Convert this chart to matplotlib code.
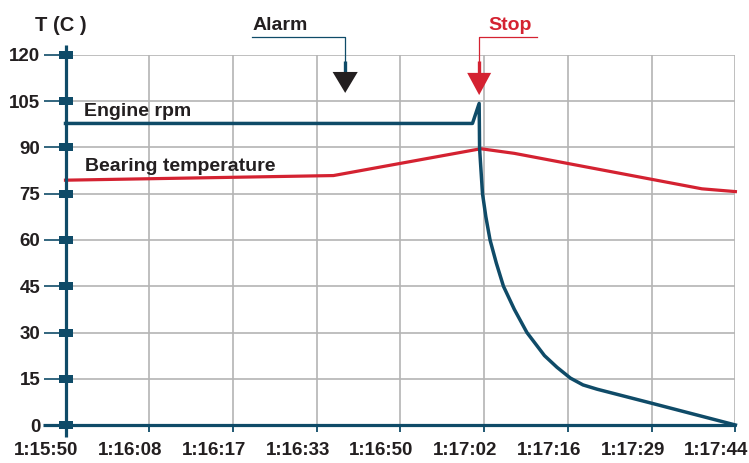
import matplotlib
matplotlib.use('Agg')
import matplotlib.pyplot as plt
import matplotlib.transforms as mtransforms
import numpy as np

# ---- data ----
time_labels = ['1:15:50', '1:16:08', '1:16:17', '1:16:33', '1:16:50',
               '1:17:02', '1:17:16', '1:17:29', '1:17:44']
y_ticks = [0, 15, 30, 45, 60, 75, 90, 105, 120]

rpm_x = [0, 4.86, 4.94, 4.945, 4.98, 5.02, 5.07, 5.145, 5.23, 5.36, 5.51,
         5.72, 5.87, 6.03, 6.18, 6.35, 6.98, 8.0]
rpm_y = [97.8, 97.8, 104.3, 89.7, 75.0, 67.5, 60.0, 52.5, 45.0, 37.5, 30.0,
         22.5, 18.7, 15.2, 13.0, 11.6, 7.2, 0.0]

temp_x = [0, 3.2, 4.96, 5.36, 7.6, 8.0]
temp_y = [79.4, 80.9, 89.6, 88.1, 76.6, 75.7]

alarm_x = 3.34
stop_x = 4.94

# ---- style ----
BLUE = '#0f4b68'
RED = '#d42231'
DARK = '#231f20'
GRID = '#b4b4b4'

plt.rcParams['font.family'] = ['Liberation Sans', 'DejaVu Sans']
plt.rcParams['font.weight'] = 'bold'

fig = plt.figure(figsize=(7.49, 4.63), dpi=100)
ax = fig.add_axes([65.5 / 749, 38 / 463, 669.9 / 749, 370 / 463])
ax.set_xlim(0, 8)
ax.set_ylim(0, 120)
for s in ax.spines.values():
    s.set_visible(False)

ax.set_xticks(range(len(time_labels)))
ax.set_xticklabels(time_labels)
ax.set_yticks(y_ticks)
ax.set_yticklabels([str(v) for v in y_ticks])
ax.tick_params(axis='x', length=5, width=1.3, color=BLUE, pad=7,
               labelsize=13.5, labelcolor=DARK)
ax.tick_params(axis='y', length=16, width=1.2, color=BLUE, pad=2,
               labelsize=13.5, labelcolor=DARK)
shift = mtransforms.ScaledTranslation(-0.19, 0, fig.dpi_scale_trans)
for lab in ax.get_xticklabels():
    lab.set_fontweight('bold')
    lab.set_transform(lab.get_transform() + shift)
for lab in ax.get_yticklabels():
    lab.set_fontweight('bold')

ax.grid(True, color=GRID, lw=1.2, zorder=0)
ax.set_axisbelow(True)

# axes lines
ax.plot([0, 0], [-3.9, 123.4], color=BLUE, lw=2.3, clip_on=False, zorder=5,
        solid_capstyle='butt')
ax.plot([-0.27, 8], [0, 0], color=BLUE, lw=2.3, clip_on=False, zorder=5,
        solid_capstyle='butt')
rect = [(-1, -0.5), (1, -0.5), (1, 0.5), (-1, 0.5), (-1, -0.5)]
ax.plot(np.zeros(len(y_ticks)), y_ticks, ls='none', marker=rect, ms=10.2,
        color=BLUE, mew=0, clip_on=False, zorder=6)

# series
ax.plot(temp_x, temp_y, color=RED, lw=2.3, zorder=3, clip_on=False,
        solid_joinstyle='round')
ax.plot(rpm_x, rpm_y, color=BLUE, lw=2.5, zorder=4, clip_on=False,
        solid_joinstyle='round')

# labels
ax.text(0.22, 100.2, 'Engine rpm', fontsize=14, color=DARK, weight='bold',
        ha='left', va='baseline')
ax.text(0.23, 82.4, 'Bearing temperature', fontsize=14, color=DARK,
        weight='bold', ha='left', va='baseline')
ax.text(-0.364, 127.8, 'T (C )', fontsize=14.5, color=DARK, weight='bold',
        ha='left', va='baseline', clip_on=False)

# Alarm marker
ax.text(2.228, 128.2, 'Alarm', fontsize=14, color=DARK, weight='bold',
        ha='left', va='baseline', clip_on=False)
ax.plot([2.228, alarm_x, alarm_x], [125.7, 125.7, 117.7], color=BLUE, lw=0.9,
        clip_on=False, zorder=7)
ax.plot([alarm_x, alarm_x], [117.9, 114.0], color=BLUE, lw=2.4,
        clip_on=False, zorder=7, solid_capstyle='butt')
ax.fill([alarm_x - 0.15, alarm_x + 0.15, alarm_x], [114.5, 114.5, 107.7],
        color=DARK, lw=0, clip_on=False, zorder=7)

# Stop marker
ax.text(5.048, 128.2, 'Stop', fontsize=14, color=RED, weight='bold',
        ha='left', va='baseline', clip_on=False)
ax.plot([5.633, stop_x, stop_x], [125.7, 125.7, 117.7], color=RED, lw=0.9,
        clip_on=False, zorder=7)
ax.plot([stop_x, stop_x], [117.9, 113.8], color=RED, lw=2.4,
        clip_on=False, zorder=7, solid_capstyle='butt')
ax.fill([stop_x - 0.143, stop_x + 0.143, stop_x], [114.2, 114.2, 107.0],
        color=RED, lw=0, clip_on=False, zorder=7)

fig.savefig('out.png', dpi=100)
